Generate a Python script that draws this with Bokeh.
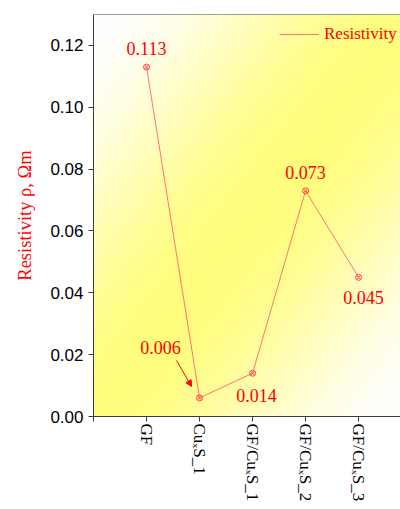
import numpy as np
from bokeh.plotting import figure
from bokeh.models import (FixedTicker, Span, Arrow, NormalHead, Legend, LegendItem,
                          ColumnDataSource, NumeralTickFormatter)
from bokeh.core.properties import value
from bokeh.embed import file_html
from bokeh.resources import INLINE

# ---- data ----
categories = ["GF", "CuₓS_1", "GF/CuₓS_1", "GF/CuₓS_2", "GF/CuₓS_3"]
resistivity = [0.113, 0.006, 0.014, 0.073, 0.045]
value_labels = ["0.113", "0.006", "0.014", "0.073", "0.045"]
y_ticks = [0.00, 0.02, 0.04, 0.06, 0.08, 0.10, 0.12]

# ---- layout ----
W, H = 400, 509
left, top, bottom = 93, 14, 93
x0, x1 = 0, 5.79
y0, y1 = 0.0, 0.13
frame_w = W - left
frame_h = H - top - bottom
sx = frame_w / (x1 - x0)
sy = frame_h / (y1 - y0)

p = figure(width=W, height=H, output_backend="svg", toolbar_location=None,
           x_range=(x0, x1), y_range=(y0, y1),
           min_border_left=left, min_border_right=0, min_border_top=top,
           min_border_bottom=bottom)
p.outline_line_color = None
p.background_fill_color = "white"
p.border_fill_color = "white"
p.grid.visible = False

# gradient background (style only)
full_w = frame_w * 318 / 307.0
gw, gh = frame_w, frame_h
xs = np.arange(gw)[None, :] / full_w
ys_top = (gh - 1 - np.arange(gh))[:, None] / gh
t = (xs + ys_top) / 2.0
inten = np.sin(np.pi * np.clip(t, 0, 1)) ** 2
r = np.full_like(inten, 255)
g = 255 - inten * 2
b = 255 - inten * 130
img = np.empty((gh, gw), dtype=np.uint32)
view = img.view(dtype=np.uint8).reshape((gh, gw, 4))
view[:, :, 0] = r.astype(np.uint8)
view[:, :, 1] = g.astype(np.uint8)
view[:, :, 2] = b.astype(np.uint8)
view[:, :, 3] = 255
p.image_rgba(image=[img], x=x0, y=y0, dw=x1 - x0, dh=y1 - y0)

# top border
p.add_layout(Span(location=y1, dimension="width", line_color="#3a3a3a", line_width=1))

xpos = list(range(1, len(categories) + 1))
src = ColumnDataSource(dict(x=xpos, y=resistivity, lab=value_labels,
                            xo=[0, -39, 4, 0, 5], yo=[-19, -50, 22, -18, 20]))
line_r = p.line("x", "y", source=src, line_color="#FF7575", line_width=1)
p.scatter("x", "y", source=src, marker="circle_x", size=6, line_color="#FF4545",
          fill_color=None, line_width=1)
p.text("x", "y", text="lab", source=src, x_offset="xo", y_offset="yo",
       text_align="center", text_baseline="middle", text_color="#FF0000",
       text_font=value("Liberation Serif"), text_font_size="18px")

# arrow for 0.006 label
ix = 1
ax0 = xpos[ix] + (-23) / sx
ay0 = resistivity[ix] + 37.5 / sy
ax1 = xpos[ix] + (-8) / sx
ay1 = resistivity[ix] + 11.5 / sy
p.add_layout(Arrow(x_start=ax0, y_start=ay0, x_end=ax1, y_end=ay1,
                   line_color="#FF0000", line_width=1,
                   end=NormalHead(size=6, fill_color="#FF0000", line_color="#FF0000")))

# axes
axis_color = "#3a3a3a"
for ax in (p.xaxis[0], p.yaxis[0]):
    ax.axis_line_color = axis_color
    ax.major_tick_line_color = axis_color
    ax.major_tick_out = 5
    ax.major_tick_in = 0
    ax.minor_tick_line_color = None

p.yaxis.ticker = FixedTicker(ticks=y_ticks)
p.yaxis.formatter = NumeralTickFormatter(format="0.00")
p.yaxis.major_label_text_font = "Liberation Sans"
p.yaxis.major_label_text_font_size = "17px"
p.yaxis.major_label_text_color = "black"
p.yaxis.major_label_standoff = 5
p.yaxis.axis_label = "Resistivity ρ, Ωm"
p.yaxis.axis_label_text_font = "Liberation Serif"
p.yaxis.axis_label_text_font_style = "normal"
p.yaxis.axis_label_text_font_size = "18.5px"
p.yaxis.axis_label_text_color = "#FF0000"
p.yaxis.axis_label_standoff = 12

p.xaxis.ticker = FixedTicker(ticks=[0] + xpos + [len(categories) + 1])
overrides = {0: ""}
for i, c in zip(xpos, categories):
    overrides[i] = c
overrides[len(categories) + 1] = ""
p.xaxis.major_label_overrides = overrides
p.xaxis.major_label_orientation = "vertical"
p.xaxis.major_label_text_font = "Liberation Serif"
p.xaxis.major_label_text_font_size = "17px"
p.xaxis.major_label_text_color = "black"
p.xaxis.major_label_standoff = 2

# legend
legend = Legend(items=[LegendItem(label="Resistivity", renderers=[line_r])],
                location=(186, 372), glyph_width=40, glyph_height=20,
                label_standoff=5, padding=0, margin=0, border_line_color=None,
                background_fill_alpha=0, label_text_color="#FF0000",
                label_text_font="Liberation Serif", label_text_font_size="17px")
p.add_layout(legend)

open("out.html", "w").write(file_html(p, INLINE))
